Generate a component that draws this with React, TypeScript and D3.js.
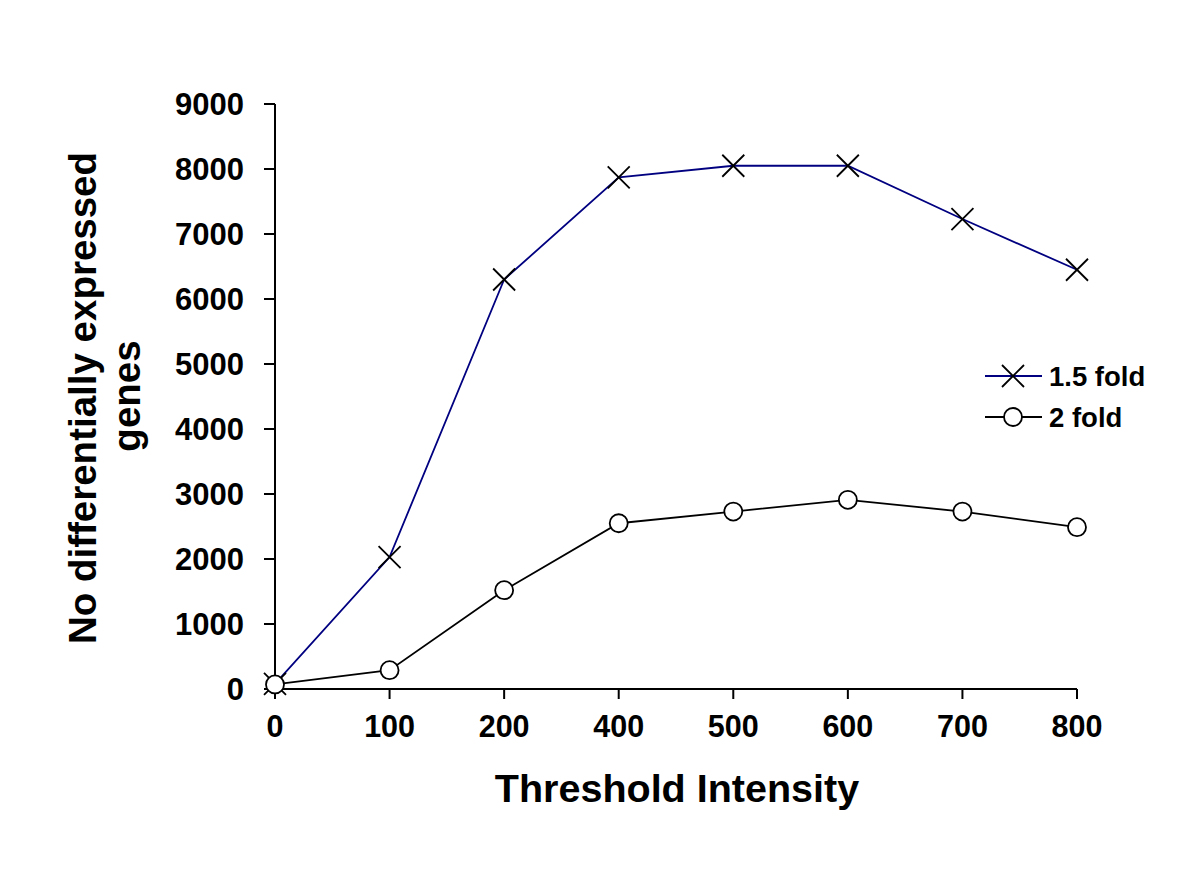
import React from "react";
import * as d3 from "d3";

const categories = ["0", "100", "200", "400", "500", "600", "700", "800"];
const fold15 = [80, 2030, 6300, 7870, 8050, 8050, 7230, 6450];
const fold2 = [70, 290, 1520, 2550, 2730, 2910, 2730, 2490];
const yTicks = [0, 1000, 2000, 3000, 4000, 5000, 6000, 7000, 8000, 9000];

const W = 1200, H = 894;
const x0 = 275, x1 = 1077, yTop = 104, yBot = 689;

export default function App() {
  const x = d3.scalePoint<string>().domain(categories).range([x0, x1]);
  const y = d3.scaleLinear().domain([0, 9000]).range([yBot, yTop]);
  const line = d3.line<number>().x((_, i) => x(categories[i])!).y((d) => y(d));
  const font = "'Liberation Sans', Arial, sans-serif";
  const cross = (cx: number, cy: number, s: number, key: any) => (
    <path key={key} d={`M${cx - s},${cy - s}L${cx + s},${cy + s}M${cx - s},${cy + s}L${cx + s},${cy - s}`} stroke="#000" strokeWidth={1.8} fill="none" />
  );
  return (
    <svg width={W} height={H} style={{ position: "absolute", left: 0, top: 0, background: "#fff" }} fontFamily={font}>
      <rect width={W} height={H} fill="#fff" />
      {/* axes */}
      <line x1={x0} x2={x0} y1={yTop} y2={yBot} stroke="#000" strokeWidth={2} />
      <line x1={x0} x2={x1} y1={yBot} y2={yBot} stroke="#000" strokeWidth={2} />
      {yTicks.map((t) => (
        <g key={t}>
          <line x1={x0 - 11} x2={x0} y1={y(t)} y2={y(t)} stroke="#000" strokeWidth={2} />
          <text x={244} y={y(t)} dy="0.36em" textAnchor="end" fontSize={31} fontWeight="bold">{t}</text>
        </g>
      ))}
      {categories.map((c) => (
        <g key={c}>
          <line x1={x(c)} x2={x(c)} y1={yBot} y2={yBot + 10} stroke="#000" strokeWidth={2} />
          <text x={x(c)} y={737} textAnchor="middle" fontSize={30.5} fontWeight="bold">{c}</text>
        </g>
      ))}
      {/* series */}
      <path d={line(fold15)!} fill="none" stroke="#000080" strokeWidth={1.8} />
      <path d={line(fold2)!} fill="none" stroke="#000" strokeWidth={1.8} />
      {fold15.map((v, i) => cross(x(categories[i])!, y(v), 11, i))}
      {fold2.map((v, i) => (
        <circle key={i} cx={x(categories[i])} cy={y(v)} r={9} fill="#fff" stroke="#000" strokeWidth={1.8} />
      ))}
      {/* titles */}
      <text x={677} y={802} textAnchor="middle" fontSize={39.5} fontWeight="bold">Threshold Intensity</text>
      <text transform={`translate(82,398) rotate(-90)`} y={14} textAnchor="middle" fontSize={38.5} fontWeight="bold">No differentially expressed</text>
      <text transform={`translate(126,396) rotate(-90)`} y={14} textAnchor="middle" fontSize={38.5} fontWeight="bold">genes</text>
      {/* legend */}
      <line x1={985} x2={1042} y1={376} y2={376} stroke="#000080" strokeWidth={1.8} />
      {cross(1013, 376, 11, "lg")}
      <text x={1049} y={376} dy="0.36em" fontSize={27.5} fontWeight="bold">1.5 fold</text>
      <line x1={985} x2={1042} y1={417} y2={417} stroke="#000" strokeWidth={1.8} />
      <circle cx={1013} cy={417} r={9} fill="#fff" stroke="#000" strokeWidth={1.8} />
      <text x={1049} y={417} dy="0.36em" fontSize={27.5} fontWeight="bold">2 fold</text>
    </svg>
  );
}
